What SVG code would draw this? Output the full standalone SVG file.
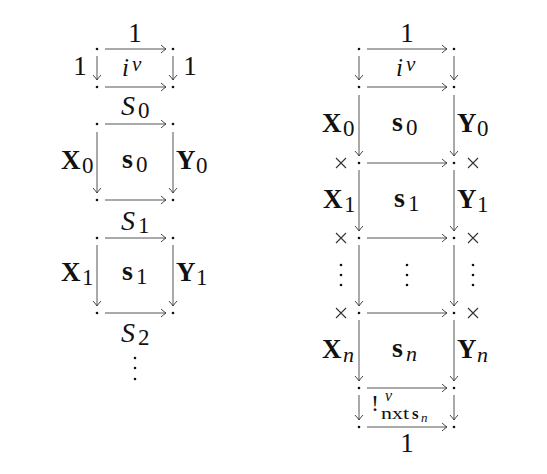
<svg xmlns="http://www.w3.org/2000/svg" width="547" height="474" viewBox="0 0 547 474">
<defs>
<marker id="ah" viewBox="-6 -5 8 10" markerWidth="8" markerHeight="10" refX="0" refY="0" orient="auto" markerUnits="userSpaceOnUse">
<path d="M-5,-4 Q-1.5,-0.8 0,0 Q-1.5,0.8 -5,4" fill="none" stroke="#333" stroke-width="0.9"/>
</marker>
</defs>
<style>
.e{stroke:#555;stroke-width:1;fill:none;marker-end:url(#ah)}
.d{fill:#111}
text{font-family:"Liberation Serif",serif;fill:#111;font-size:27px}
.S{font-size:28px;font-style:italic}
.B{font-size:27px;font-weight:bold}
.s{font-size:28px;font-weight:bold}
.sub{font-size:23px}
.subn{font-size:22px;font-style:italic}
.iv{font-size:25px;font-style:italic}
.v{font-size:21px;font-style:italic}
.m{text-anchor:middle}
.x{stroke:#333;stroke-width:1.1}
</style>
<rect width="547" height="474" fill="#fff"/>
<g id="connectors">
<line class="e" x1="105" y1="49" x2="166" y2="49"/>
<line class="e" x1="105" y1="87" x2="166" y2="87"/>
<line class="e" x1="105" y1="124" x2="166" y2="124"/>
<line class="e" x1="105" y1="200" x2="166" y2="200"/>
<line class="e" x1="105" y1="238" x2="166" y2="238"/>
<line class="e" x1="105" y1="313" x2="166" y2="313"/>
<line class="e" x1="97" y1="56" x2="97" y2="80"/>
<line class="e" x1="173" y1="56" x2="173" y2="80"/>
<line class="e" x1="97" y1="132" x2="97" y2="193"/>
<line class="e" x1="173" y1="132" x2="173" y2="193"/>
<line class="e" x1="97" y1="245" x2="97" y2="306"/>
<line class="e" x1="173" y1="245" x2="173" y2="306"/>
<line class="e" x1="367" y1="49" x2="447" y2="49"/>
<line class="e" x1="367" y1="87" x2="447" y2="87"/>
<line class="e" x1="367" y1="163" x2="447" y2="163"/>
<line class="e" x1="367" y1="238" x2="447" y2="238"/>
<line class="e" x1="367" y1="313" x2="447" y2="313"/>
<line class="e" x1="367" y1="388" x2="447" y2="388"/>
<line class="e" x1="367" y1="427" x2="447" y2="427"/>
<line class="e" x1="359" y1="56" x2="359" y2="80"/>
<line class="e" x1="454" y1="56" x2="454" y2="80"/>
<line class="e" x1="359" y1="95" x2="359" y2="156"/>
<line class="e" x1="454" y1="95" x2="454" y2="156"/>
<line class="e" x1="359" y1="170" x2="359" y2="231"/>
<line class="e" x1="454" y1="170" x2="454" y2="231"/>
<line class="e" x1="359" y1="245" x2="359" y2="306"/>
<line class="e" x1="454" y1="245" x2="454" y2="306"/>
<line class="e" x1="359" y1="320" x2="359" y2="381"/>
<line class="e" x1="454" y1="320" x2="454" y2="381"/>
<line class="e" x1="359" y1="395" x2="359" y2="420"/>
<line class="e" x1="454" y1="395" x2="454" y2="420"/>
</g>
<g id="left-nodes">
<g id="L-dots" class="d">
<circle cx="97" cy="49" r="1.3"/><circle cx="173" cy="49" r="1.3"/>
<circle cx="97" cy="87" r="1.3"/><circle cx="173" cy="87" r="1.3"/>
<circle cx="97" cy="124" r="1.3"/><circle cx="173" cy="124" r="1.3"/>
<circle cx="97" cy="200" r="1.3"/><circle cx="173" cy="200" r="1.3"/>
<circle cx="97" cy="238" r="1.3"/><circle cx="173" cy="238" r="1.3"/>
<circle cx="97" cy="313" r="1.3"/><circle cx="173" cy="313" r="1.3"/>
<circle cx="135" cy="358" r="1.3"/><circle cx="135" cy="368" r="1.3"/><circle cx="135" cy="379" r="1.3"/>
</g>
<g id="L-labels">
<text x="135" y="42" class="m">1</text>
<text x="80" y="75" class="m">1</text>
<text x="190" y="75" class="m">1</text>
<text x="122" y="76" class="iv">i</text><text x="132" y="71" class="v">v</text>
<text x="121" y="115" class="S">S</text><text x="138" y="118" class="sub">0</text>
<text x="61" y="169" class="B">X</text><text x="82" y="173" class="sub">0</text>
<text x="122" y="168" class="s">s</text><text x="136" y="172" class="sub">0</text>
<text x="176" y="169" class="B">Y</text><text x="196" y="173" class="sub">0</text>
<text x="121" y="230" class="S">S</text><text x="138" y="233" class="sub">1</text>
<text x="61" y="281" class="B">X</text><text x="82" y="285" class="sub">1</text>
<text x="122" y="280" class="s">s</text><text x="136" y="284" class="sub">1</text>
<text x="176" y="281" class="B">Y</text><text x="196" y="285" class="sub">1</text>
<text x="121" y="342" class="S">S</text><text x="138" y="345" class="sub">2</text>
</g>
</g>
<g id="right-nodes">
<g id="R-dots" class="d">
<circle cx="359" cy="49" r="1.3"/><circle cx="454" cy="49" r="1.3"/>
<circle cx="359" cy="87" r="1.3"/><circle cx="454" cy="87" r="1.3"/>
<circle cx="359" cy="163" r="1.3"/><circle cx="454" cy="163" r="1.3"/>
<circle cx="359" cy="238" r="1.3"/><circle cx="454" cy="238" r="1.3"/>
<circle cx="359" cy="313" r="1.3"/><circle cx="454" cy="313" r="1.3"/>
<circle cx="359" cy="388" r="1.3"/><circle cx="454" cy="388" r="1.3"/>
<circle cx="359" cy="427" r="1.3"/><circle cx="454" cy="427" r="1.3"/>
<circle cx="341" cy="265" r="1.3"/><circle cx="341" cy="275" r="1.3"/><circle cx="341" cy="285" r="1.3"/>
<circle cx="407" cy="265" r="1.3"/><circle cx="407" cy="275" r="1.3"/><circle cx="407" cy="285" r="1.3"/>
<circle cx="473" cy="265" r="1.3"/><circle cx="473" cy="275" r="1.3"/><circle cx="473" cy="285" r="1.3"/>
</g>
<g id="R-crosses" class="x">
<path d="M336,158 L346,168 M346,158 L336,168"/>
<path d="M468,158 L478,168 M478,158 L468,168"/>
<path d="M336,233 L346,243 M346,233 L336,243"/>
<path d="M468,233 L478,243 M478,233 L468,243"/>
<path d="M336,308 L346,318 M346,308 L336,318"/>
<path d="M468,308 L478,318 M478,308 L468,318"/>
</g>
<g id="R-labels">
<text x="407" y="42" class="m">1</text>
<text x="396" y="76" class="iv">i</text><text x="406" y="71" class="v">v</text>
<text x="322" y="132" class="B">X</text><text x="343" y="136" class="sub">0</text>
<text x="392" y="131" class="s">s</text><text x="406" y="135" class="sub">0</text>
<text x="457" y="132" class="B">Y</text><text x="477" y="136" class="sub">0</text>
<text x="323" y="208" class="B">X</text><text x="344" y="212" class="sub">1</text>
<text x="394" y="207" class="s">s</text><text x="408" y="211" class="sub">1</text>
<text x="457" y="208" class="B">Y</text><text x="477" y="212" class="sub">1</text>
<text x="322" y="358" class="B">X</text><text x="343" y="362" class="subn">n</text>
<text x="392" y="357" class="s">s</text><text x="406" y="361" class="subn">n</text>
<text x="457" y="358" class="B">Y</text><text x="477" y="362" class="subn">n</text>
<text x="371" y="411" style="font-size:24px">!</text>
<text x="385" y="401" style="font-size:16px;font-style:italic">v</text>
<text x="381" y="419" style="font-size:17px" textLength="28" lengthAdjust="spacingAndGlyphs">nxt</text>
<text x="412" y="419" style="font-size:17px;font-weight:bold">s</text>
<text x="421" y="422" style="font-size:13px;font-style:italic">n</text>
<text x="407" y="452" class="m">1</text>
</g>
</g>
</svg>
